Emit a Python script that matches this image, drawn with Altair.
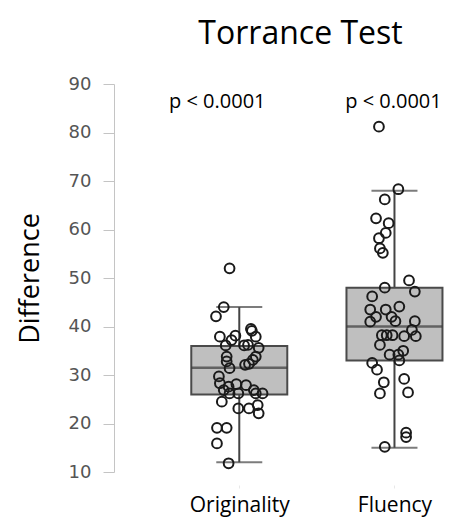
import altair as alt
import pandas as pd

categories = ["Originality", "Fluency"]
cat_pos = [1, 2]

# whisker / box statistics per category
lower = [12, 15]
q1 = [26, 33]
median = [31.5, 40]
q3 = [36, 48]
upper = [44, 68]

# individual observations (value, horizontal jitter in px)
orig_values = [52.0, 44.0, 42.1, 39.5, 37.9, 37.2, 38.1, 39.1, 37.9, 36.1,
               36.1, 36.2, 35.6, 33.8, 33.8, 32.8, 33.1, 32.3, 32.1, 31.4,
               29.7, 28.3, 27.6, 28.1, 27.9, 26.9, 26.2, 26.2, 26.9, 26.2,
               26.2, 24.5, 23.1, 23.1, 23.8, 22.1, 19.1, 19.1, 15.9, 11.8]
orig_jitter = [-10, -16, -24, 12, -20, -8, -4, 13, 17, -14,
               5, 9, 20, -13, 17, -13, 14, 10, 6, -10,
               -21, -20, -11, -3, 7, -16, -10, -1, 15, 17,
               24, -18, -1, 10, 19, 20, -23, -13, -23, -11]
flu_values = [81.2, 68.3, 66.2, 62.3, 61.3, 59.3, 58.2, 56.1, 55.2, 49.5,
              48.0, 47.2, 46.2, 44.1, 43.5, 43.5, 42.0, 42.0, 41.1, 41.0,
              41.1, 39.3, 38.2, 38.2, 38.2, 38.0, 38.0, 36.2, 35.0, 34.2,
              34.2, 33.0, 32.5, 31.1, 29.2, 28.5, 26.4, 26.2, 18.1, 17.2, 15.2]
flu_jitter = [-16, 4, -10, -19, -6, -9, -16, -15, -12, 15,
              -10, 21, -23, 5, -25, -9, -19, -3, 1, -25,
              21, 18, -13, -8, -2, 10, 22, -15, 9, -5,
              4, 5, -23, -18, 10, -11, 14, -15, 12, 12, -10]

p_labels = ["p < 0.0001", "p < 0.0001"]
y_ticks = [10, 20, 30, 40, 50, 60, 70, 80, 90]
chart_title = "Torrance Test"
y_title = "Difference"

stats = pd.DataFrame({
    "group": categories, "pos": cat_pos, "lower": lower, "q1": q1,
    "median": median, "q3": q3, "upper": upper, "p": p_labels,
})
points = pd.DataFrame({
    "group": ["Originality"] * len(orig_values) + ["Fluency"] * len(flu_values),
    "pos": [cat_pos[0]] * len(orig_values) + [cat_pos[1]] * len(flu_values),
    "value": orig_values + flu_values,
    "jitter": orig_jitter + flu_jitter,
})

label_expr = " : ".join(
    [f"datum.value == {p} ? '{c}'" for p, c in zip(cat_pos, categories)] + ["''"]
)

x_scale = alt.Scale(domain=[0.225, 2.30625])
x_axis = alt.Axis(values=cat_pos, labelExpr=label_expr, domain=False, grid=False,
                  ticks=True, tickColor="#e8e8e8", tickSize=3, offset=13,
                  labelPadding=6, labelFont="Open Sans", labelFontSize=21,
                  labelColor="black", title=None)
y_scale = alt.Scale(domain=[10, 90], nice=False, zero=False)
y_axis = alt.Axis(values=y_ticks, grid=False, domainColor="#c4c4c4",
                  tickColor="#c4c4c4", tickSize=11, labelPadding=12,
                  labelFont="DejaVu Sans", labelFontSize=18, labelColor="#555555",
                  title=y_title, titleFont="Open Sans", titleFontSize=27,
                  titleFontWeight="normal", titleColor="black", titleX=-76,
                  titleY=194, titleAngle=270, titleAlign="center",
                  titleBaseline="alphabetic")

X = alt.X("xpos:Q", scale=x_scale, axis=x_axis)

base = alt.Chart(stats).transform_calculate(xpos="datum.pos")

whisker = base.mark_rule(color="#444444", strokeWidth=2).encode(
    x=X, y=alt.Y("lower:Q", scale=y_scale, axis=y_axis), y2="upper:Q")
box = base.mark_bar(size=96, fill="#bfbfbf", stroke="#4a4a4a", strokeWidth=2).encode(
    x=X, y=alt.Y("q1:Q", scale=y_scale, axis=y_axis), y2="q3:Q")
med = base.mark_tick(orient="horizontal", size=96, thickness=2.5, color="#3a3a3a").encode(
    x=X, y=alt.Y("median:Q", scale=y_scale, axis=y_axis))
cap_lo = base.mark_tick(orient="horizontal", size=46, thickness=2, color="#444444").encode(
    x=X, y=alt.Y("lower:Q", scale=y_scale, axis=y_axis))
cap_hi = base.mark_tick(orient="horizontal", size=46, thickness=2, color="#444444").encode(
    x=X, y=alt.Y("upper:Q", scale=y_scale, axis=y_axis))

pts = alt.Chart(points).transform_calculate(
    xpos="datum.pos + datum.jitter / 160"
).mark_point(shape="circle", filled=False, size=95, strokeWidth=2,
             color="#1a1a1a", opacity=1).encode(
    x=X, y=alt.Y("value:Q", scale=y_scale, axis=y_axis))

p_left = base.transform_filter(f"datum.group == '{categories[0]}'").mark_text(
    font="Open Sans", fontSize=20, baseline="alphabetic", dx=-22, color="black"
).encode(x=X, y=alt.value(24), text="p:N")
p_right = base.transform_filter(f"datum.group == '{categories[1]}'").mark_text(
    font="Open Sans", fontSize=20, baseline="alphabetic", dx=-1, color="black"
).encode(x=X, y=alt.value(24), text="p:N")

chart = alt.layer(whisker, box, med, cap_lo, cap_hi, pts, p_left, p_right).properties(
    width=333, height=388,
    title=alt.TitleParams(chart_title, font="Open Sans", fontSize=32,
                          fontWeight="normal", color="black", anchor="middle",
                          dx=20, offset=24),
    autosize=alt.AutoSizeParams(type="none"),
    padding={"left": 106, "top": 76, "right": 0, "bottom": 45},
).configure_view(stroke=None)

chart.save("out.html", embed_options={"renderer": "svg", "actions": False})
